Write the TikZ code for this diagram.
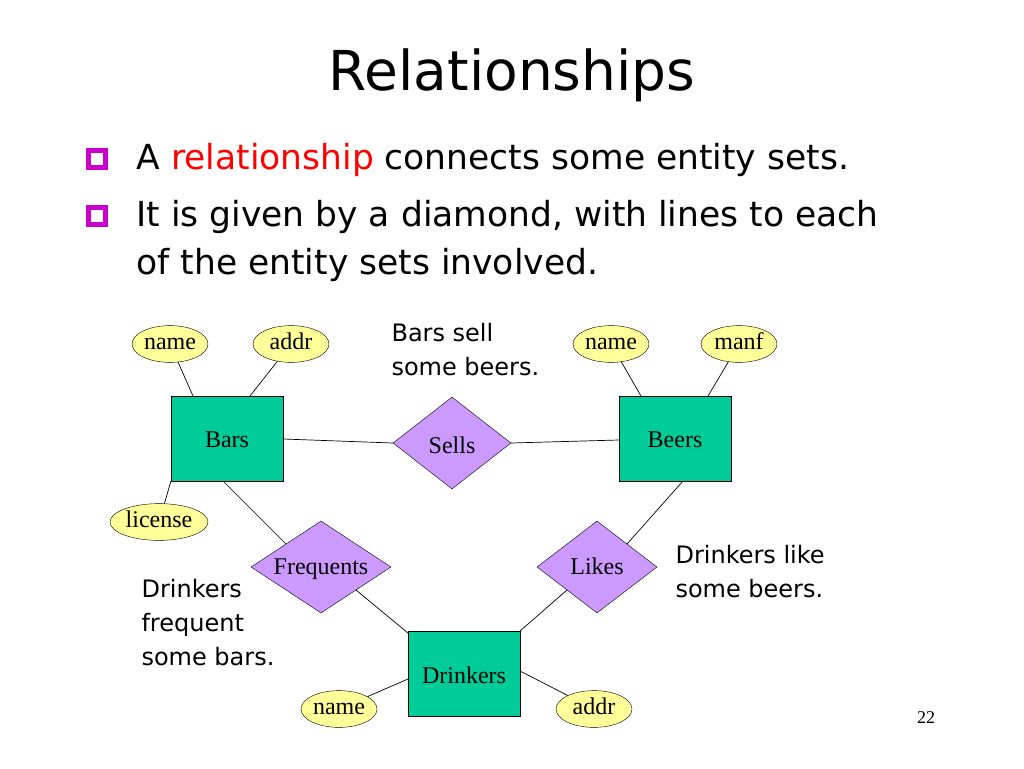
\documentclass[tikz,border=0pt]{standalone}
\usepackage{fontspec}
\setmainfont{Liberation Serif}
\newfontfamily\slidefont{DejaVu Sans}
\usetikzlibrary{shapes.geometric}
\definecolor{attr}{RGB}{255,255,153}
\definecolor{ent}{RGB}{0,204,153}
\definecolor{rel}{RGB}{204,153,255}
\definecolor{bul}{RGB}{204,0,204}
\tikzset{
  attrib/.style={ellipse,draw,fill=attr,inner sep=0pt,minimum width=76pt,minimum height=33pt,font=\fontsize{24}{26}\selectfont},
  entity/.style={rectangle,draw,fill=ent,minimum width=112pt,minimum height=85pt,font=\fontsize{24}{26}\selectfont},
  relbox/.style={diamond,draw,fill=rel,inner sep=0pt,aspect=1.3,font=\fontsize{24}{26}\selectfont},
  note/.style={font=\slidefont\fontsize{24}{34}\selectfont,align=left,anchor=north west},
  bline/.style={font=\slidefont\fontsize{34.5}{40}\selectfont,anchor=west},
  bulbox/.style={draw=bul,line width=4.5pt,minimum size=17pt,inner sep=0pt},
  conn/.style={draw,line width=0.7pt}
}
\begin{document}
\begin{tikzpicture}[x=1pt,y=-1pt]
\useasboundingbox (0,0) rectangle (1024,768);
\node[font=\slidefont\fontsize{55}{60}\selectfont] (title) at (512,75) {Relationships};
\node[bulbox] (b1) at (97,159) {};
\node[bulbox] (b2) at (97,216) {};
\node[bline] (t1) at (133,160) {A \textcolor{red}{relationship} connects some entity sets.};
\node[bline] (t2) at (133,217) {It is given by a diamond, with lines to each};
\node[bline] (t3) at (133,265) {of the entity sets involved.};

\node[attrib] (bname) at (170,344) {\strut name};
\node[attrib] (baddr) at (291,344) {\strut addr};
\node[attrib] (rname) at (611,344) {\strut name};
\node[attrib] (rmanf) at (739,344) {\strut manf};
\node[attrib,minimum width=98pt] (lic) at (159,522) {\strut license};
\node[attrib] (dname) at (339,709) {\strut name};
\node[attrib] (daddr) at (594,709) {\strut addr};

\node[entity] (bars) at (227,438.5) {};
\node[font=\fontsize{24}{26}\selectfont] (barsl) at (227,440) {Bars};
\node[entity] (beers) at (675,438.5) {};
\node[font=\fontsize{24}{26}\selectfont] (beersl) at (675,440) {Beers};
\node[entity] (drink) at (464,673.5) {};
\node[font=\fontsize{24}{26}\selectfont] (drinkl) at (464,675) {Drinkers};

\node[relbox,minimum width=118pt,minimum height=92pt] (sells) at (452,443) {};
\node[font=\fontsize{24}{26}\selectfont] (sellsl) at (452,445) {Sells};
\node[relbox,minimum width=140pt,minimum height=92pt] (freq) at (321,567) {};
\node[font=\fontsize{24}{26}\selectfont] (freql) at (321,569) {\strut Frequents};
\node[relbox,minimum width=120pt,minimum height=92pt] (likes) at (597,567) {};
\node[font=\fontsize{24}{26}\selectfont] (likesl) at (597,569) {\strut Likes};

\coordinate (c1) at (193,396); \coordinate (c2) at (250,396);
\coordinate (c3) at (641,396); \coordinate (c4) at (708,396);
\coordinate (c5) at (171,481); \coordinate (c6) at (223,481);
\coordinate (c7) at (683,481); \coordinate (c8) at (408,633);
\coordinate (c9) at (520,631); \coordinate (c10) at (408,679);
\coordinate (c11) at (520,671);
\draw[conn] (bname) -- (c1);
\draw[conn] (baddr) -- (c2);
\draw[conn] (rname) -- (c3);
\draw[conn] (rmanf) -- (c4);
\draw[conn] (lic) -- (c5);
\draw[conn] (bars.east |- 0,439) -- (sells.west);
\draw[conn] (sells.east) -- (beers.west |- 0,440);
\draw[conn] (c6) -- (freq.north west);
\draw[conn] (freq.south east) -- (c8);
\draw[conn] (c7) -- (likes.north east);
\draw[conn] (likes.south west) -- (c9);
\draw[conn] (dname) -- (c10);
\draw[conn] (daddr) -- (c11);

\node[note] (n1) at (388,320) {Bars sell\\some beers.};
\node[note] (n2) at (672,542) {Drinkers like\\some beers.};
\node[note] (n3) at (138,576) {Drinkers\\frequent\\some bars.};
\node[font=\fontsize{18}{20}\selectfont] (pg) at (926,718) {22};
\end{tikzpicture}
\end{document}
